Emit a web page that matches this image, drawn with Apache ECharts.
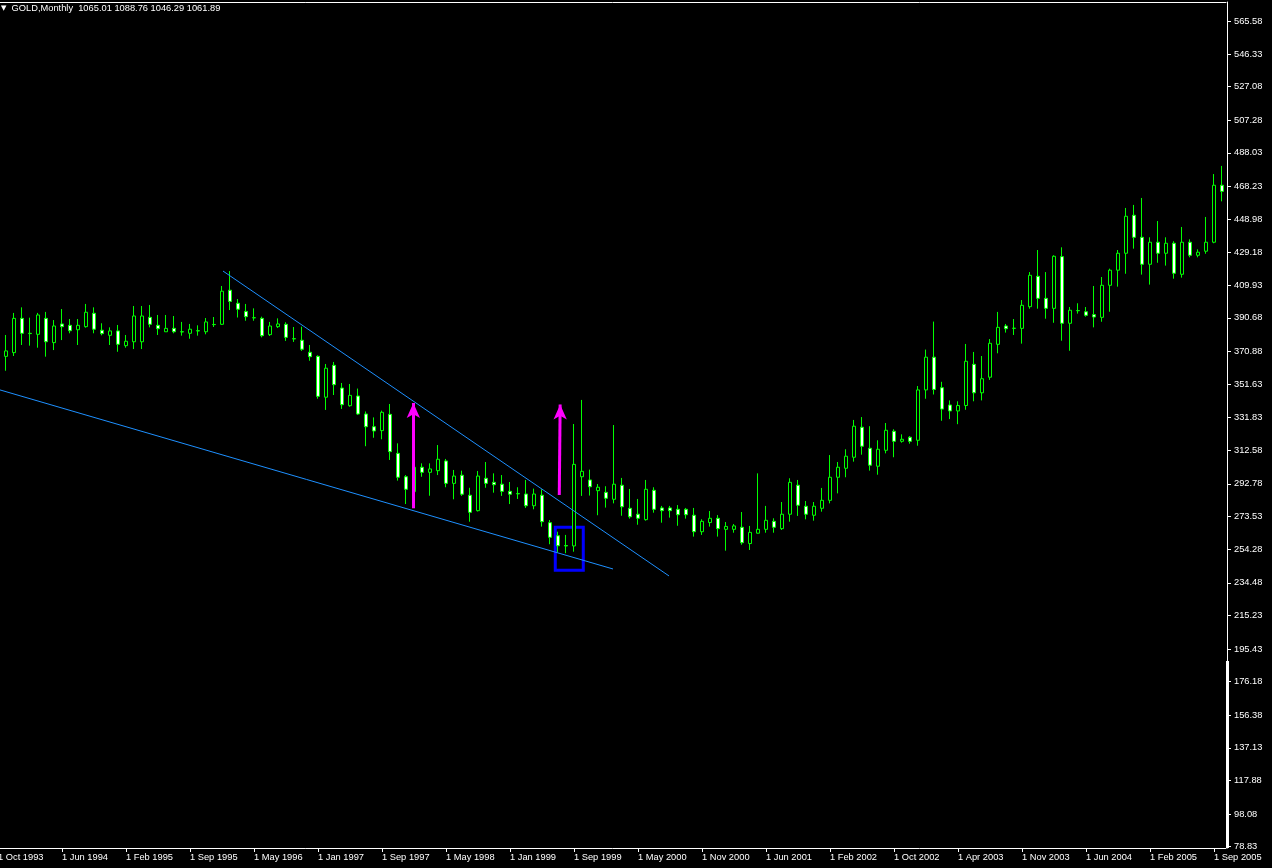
<!DOCTYPE html>
<html>
<head>
<meta charset="utf-8">
<script src="https://cdn.jsdelivr.net/npm/echarts@6/dist/echarts.min.js"></script>
<style>
html,body{margin:0;padding:0;background:#000;}
#chart{width:1272px;height:868px;}
</style>
</head>
<body>
<div id="chart"></div>
<script>
// ---- data (monthly GOLD candles, bar index 0 = Oct 1993) ----
const xTickLabels = ['1 Oct 1993','1 Jun 1994','1 Feb 1995','1 Sep 1995','1 May 1996','1 Jan 1997','1 Sep 1997','1 May 1998','1 Jan 1999','1 Sep 1999','1 May 2000','1 Nov 2000','1 Jun 2001','1 Feb 2002','1 Oct 2002','1 Apr 2003','1 Nov 2003','1 Jun 2004','1 Feb 2005','1 Sep 2005'];
const labelEvery = 8;

const yTickValues = [565.58,546.33,527.08,507.28,488.03,468.23,448.98,429.18,409.93,390.68,370.88,351.63,331.83,312.58,292.78,273.53,254.28,234.48,215.23,195.43,176.18,156.38,137.13,117.88,98.08,78.83];

const opens = [354.0,368.0,370.2,390.4,381.6,381.0,390.4,376.1,387.1,386.3,
 383.7,385.5,393.4,383.4,380.4,383.0,374.3,376.6,376.6,391.0,
 386.3,382.5,384.5,382.5,381.6,383.1,382.5,386.8,386.9,407.0,
 399.3,394.5,390.8,390.4,380.8,385.5,386.9,378.4,377.5,370.4,
 368.0,343.9,362.7,349.3,338.9,344.6,334.0,326.5,324.2,333.8,
 310.8,297.0,288.2,302.6,299.6,300.6,306.3,293.1,297.9,286.1,
 277.0,296.1,293.7,292.6,288.4,287.1,286.8,279.9,286.1,269.9,
 262.2,256.4,256.2,297.0,295.1,288.8,287.8,283.7,292.0,278.4,
 274.9,271.7,289.0,278.6,278.6,277.8,277.8,274.3,264.6,270.0,
 272.5,266.0,266.0,267.2,257.6,263.7,266.0,270.7,266.4,274.9,
 292.0,279.6,274.3,278.4,283.1,296.7,302.0,308.5,326.2,313.8,
 303.2,312.6,323.8,317.9,320.3,318.5,348.2,367.5,349.5,339.3,
 335.8,339.0,363.3,346.5,355.7,375.1,385.9,384.6,384.5,397.3,
 415.2,402.2,396.3,426.8,387.5,395.0,394.3,392.6,391.0,409.9,
 418.8,428.8,451.2,438.2,422.3,435.3,428.8,434.7,416.4,435.3,
 427.6,430.0,435.3,468.9];

const highs = [372.0,380.6,393.6,396.9,390.8,393.6,394.2,389.4,395.9,390.0,
 390.0,398.9,396.9,387.5,385.1,386.5,380.6,397.7,397.7,398.3,
 392.4,392.4,391.8,388.3,387.1,386.3,390.6,391.2,409.5,418.3,
 401.8,398.9,396.3,391.4,388.3,390.4,388.1,385.3,385.5,374.7,
 368.6,363.5,364.7,352.3,351.7,349.0,335.5,332.0,336.0,339.9,
 316.7,298.0,305.7,304.9,304.9,315.7,307.5,301.0,300.6,290.5,
 300.4,305.7,299.0,298.0,293.9,290.8,295.1,290.0,289.6,271.5,
 264.6,262.7,328.1,342.3,301.2,292.7,291.4,327.5,296.3,289.8,
 283.9,295.1,290.8,279.8,279.8,280.3,278.6,278.6,271.9,276.8,
 274.4,270.3,269.1,276.2,268.0,299.0,279.8,272.5,282.1,296.1,
 295.1,282.7,282.1,290.4,309.8,305.7,313.2,330.5,332.2,326.8,
 318.5,328.7,325.0,322.0,321.0,350.5,372.0,388.5,353.0,342.0,
 341.5,375.3,370.6,368.2,378.2,394.2,387.1,390.0,401.2,417.7,
 430.7,417.7,427.6,432.3,397.1,399.3,397.1,409.5,414.8,419.7,
 430.7,455.5,457.3,461.4,438.2,447.8,438.2,435.9,444.3,437.0,
 431.1,450.2,475.5,480.3];

const lows = [352.0,359.5,368.2,374.7,374.3,373.1,367.8,371.7,377.6,381.6,
 374.7,384.9,381.6,380.4,374.7,370.7,373.1,372.3,372.3,385.1,
 380.6,382.5,381.6,380.2,378.4,380.2,381.0,385.3,386.5,395.3,
 390.9,389.0,389.0,379.2,380.0,384.7,377.1,376.5,371.2,365.4,
 343.0,336.4,345.2,337.0,338.3,333.5,315.0,320.0,319.1,306.9,
 294.7,280.9,278.6,297.0,285.8,298.0,290.8,283.7,285.7,270.5,
 276.5,290.5,287.6,285.7,280.9,283.9,278.6,277.8,267.6,257.2,
 252.5,251.9,252.8,285.7,285.9,274.3,278.8,281.3,274.0,272.3,
 268.7,271.1,275.8,269.9,272.9,268.1,272.3,261.7,262.7,267.6,
 261.7,253.4,264.0,256.9,253.8,263.5,264.0,264.0,265.6,270.5,
 273.9,271.9,271.1,276.4,281.3,287.2,296.7,305.9,310.0,300.6,
 298.2,310.8,308.5,317.1,316.5,315.3,343.0,345.5,330.0,331.0,
 328.0,336.5,341.5,342.0,354.1,369.8,382.0,380.6,375.5,396.1,
 396.1,390.2,387.8,377.2,371.3,393.2,391.4,385.1,388.4,394.3,
 409.1,416.7,431.5,416.2,410.3,423.2,421.5,413.8,414.4,426.4,
 426.4,428.5,434.7,459.4];

const closes = [370.2,371.2,390.4,381.6,381.4,392.4,376.6,385.9,385.5,383.1,
 386.3,394.0,384.0,381.4,383.0,375.1,376.9,391.8,391.8,386.9,
 384.3,384.5,382.5,382.4,384.0,383.0,388.3,386.7,406.4,400.4,
 395.8,391.4,390.7,380.2,385.9,387.1,379.2,378.3,372.2,367.8,
 344.4,361.0,351.3,339.5,345.0,334.0,326.5,324.0,335.0,311.8,
 296.7,289.6,302.6,299.6,301.6,307.3,293.1,297.4,286.7,276.0,
 297.4,293.1,292.3,288.4,286.7,286.9,279.9,286.8,270.5,261.3,
 256.3,256.2,304.3,300.2,291.1,290.8,284.3,292.6,279.3,273.4,
 272.5,289.6,277.8,277.0,277.0,274.6,274.6,264.6,270.7,272.5,
 266.4,267.7,268.0,258.1,264.2,266.0,271.3,267.2,274.9,293.7,
 280.2,274.9,279.6,283.1,296.7,302.6,309.1,326.8,315.0,303.8,
 313.2,324.4,317.9,319.1,317.9,348.2,367.5,348.5,336.9,335.8,
 339.0,365.1,346.5,354.8,375.7,385.1,384.3,384.5,398.1,415.8,
 402.2,396.3,427.0,387.5,395.2,394.9,392.2,391.2,409.9,418.8,
 428.8,450.6,438.2,422.3,435.3,428.8,434.7,417.0,435.3,427.6,
 429.4,435.3,468.9,465.3];

// annotations in data space: [bar index, price]
const trendLines = [
  [[0.25, 348.2], [76.875, 242.6]],
  [[28.125, 418.3], [83.875, 238.5]]
];
// arrow shaft: [start, end]; the head is centred on the end point
const arrows = [
  [[51.92, 278.4], [51.92, 340.5]],
  [[70.16, 286.2], [70.27, 339.6]]
];
const boxCorners = [[69.66, 267.2], [73.16, 241.85]];

// ---- chart ----
const categories = opens.map((_, i) => (i % labelEvery === 0 && xTickLabels[i / labelEvery]) ? xTickLabels[i / labelEvery] : ('#' + i));
const candleData = opens.map((o, i) => [o, closes[i], lows[i], highs[i]]);
const FONT = 'Liberation Sans';
const WHITE = '#ffffff';
const MAGENTA = '#ff00ff';

const chart = echarts.init(document.getElementById('chart'), null, {renderer: 'canvas'});
const option = {
  backgroundColor: '#000000',
  animation: false,
  title: {
    text: '{t|▼}  GOLD,Monthly  1065.01 1088.76 1046.29 1061.89',
    left: 1, top: 4, padding: 0,
    textStyle: {
      color: WHITE, fontSize: 9.3, fontFamily: FONT, fontWeight: 'normal',
      rich: { t: { fontSize: 7, fontFamily: 'DejaVu Sans', color: WHITE } }
    }
  },
  grid: { left: -6, top: 2, width: 1232, bottom: 20, containLabel: false, outerBoundsMode: 'none' },
  xAxis: [
    {
      type: 'category', data: categories, boundaryGap: true, position: 'bottom',
      axisLine: { show: true, onZero: false, lineStyle: { color: WHITE, width: 1 } },
      axisTick: { show: true, alignWithLabel: true, length: 4, interval: (i) => i % labelEvery === 0, lineStyle: { color: WHITE } },
      axisLabel: { show: true, interval: (i) => i % labelEvery === 0, align: 'left', margin: 5,
                   color: WHITE, fontSize: 9.3, fontFamily: FONT },
      splitLine: { show: false }
    },
    {
      type: 'value', min: -0.5, max: opens.length - 0.5, position: 'top',
      axisLine: { show: true, onZero: false, lineStyle: { color: WHITE, width: 1 } },
      axisTick: { show: false }, axisLabel: { show: false }, splitLine: { show: false }
    }
  ],
  yAxis: {
    type: 'value', position: 'right', offset: 1,
    min: 78.07, max: 576.96, scale: true,
    axisLine: { show: true, onZero: false, lineStyle: { color: WHITE, width: 1 } },
    axisTick: { show: true, length: 4, customValues: yTickValues, lineStyle: { color: WHITE } },
    axisLabel: { show: true, customValues: yTickValues, margin: 7, color: WHITE, fontSize: 9.3, fontFamily: FONT,
                 formatter: (v) => Number(v).toFixed(2) },
    splitLine: { show: false }
  },
  graphic: [
    { type: 'rect', shape: { x: 1226, y: 661, width: 3, height: 187 }, style: { fill: WHITE }, z: 100, silent: true }
  ],
  series: [
    {
      type: 'candlestick', xAxisIndex: 0, yAxisIndex: 0,
      data: candleData, barWidth: 4,
      itemStyle: {
        color: '#000000', color0: '#ffffff',
        borderColor: '#00ff00', borderColor0: '#00ff00', borderColorDoji: '#00ff00',
        borderWidth: 1
      },
      emphasis: { disabled: true },
      silent: true
    },
    {
      type: 'line', xAxisIndex: 1, yAxisIndex: 0,
      data: trendLines[0], symbol: 'none', silent: true,
      lineStyle: { color: '#1e90ff', width: 1 }, z: 5
    },
    {
      type: 'line', xAxisIndex: 1, yAxisIndex: 0,
      data: trendLines[1], symbol: 'none', silent: true,
      lineStyle: { color: '#1e90ff', width: 1 }, z: 5,
      markLine: {
        silent: true, animation: false,
        symbol: ['none', 'none'],
        label: { show: false },
        emphasis: { disabled: true },
        lineStyle: { color: MAGENTA, width: 3, type: 'solid' },
        data: arrows.map(a => [{ coord: a[0] }, { coord: a[1] }])
      },
      markArea: {
        silent: true,
        itemStyle: { color: 'rgba(0,0,0,0)', borderColor: '#0000ff', borderWidth: 3 },
        label: { show: false },
        emphasis: { disabled: true },
        data: [[{ coord: boxCorners[0] }, { coord: boxCorners[1] }]]
      }
    },
    {
      type: 'scatter', xAxisIndex: 1, yAxisIndex: 0,
      data: arrows.map(a => a[1]),
      symbol: 'arrow', symbolSize: [10, 15], silent: true,
      itemStyle: { color: MAGENTA, opacity: 1 },
      emphasis: { disabled: true },
      z: 6
    }
  ]
};
chart.setOption(option);
</script>
</body>
</html>
